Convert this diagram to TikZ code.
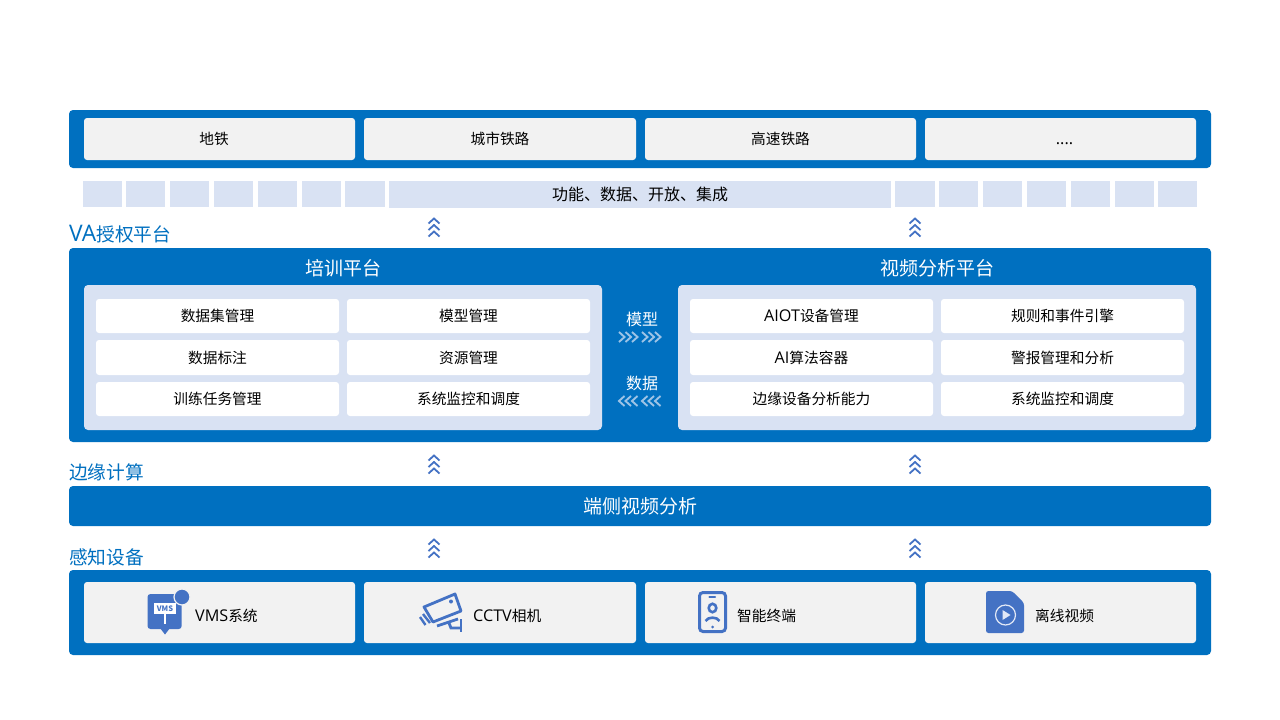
\documentclass[tikz,border=0pt]{standalone}
\usepackage{fontspec}
\setmainfont{Noto Sans CJK SC}
\newfontfamily\lat[Scale=1.1]{Open Sans}
\newfontfamily\latb[Scale=1.22]{Open Sans}
\definecolor{bandblue}{HTML}{0070C0}
\definecolor{paleblue}{HTML}{D9E2F3}
\definecolor{cardgray}{HTML}{F2F2F2}
\definecolor{iconblue}{HTML}{4472C4}
\definecolor{chevlight}{HTML}{9DC3E6}
\newcommand{\fsA}{\fontsize{14.7}{16}\selectfont}
\newcommand{\fsB}{\fontsize{19}{20}\selectfont}
\newcommand{\fsC}{\fontsize{16}{18}\selectfont}
\newcommand{\fsD}{\fontsize{18.7}{20}\selectfont}
% box by corners: name, x0, y0, x1, y1, style, text
\newcommand{\bx}[7]{\node[#6, minimum width=#4pt-#2pt, minimum height=#5pt-#3pt] (#1) at ({(#2+#4)/2},{(#3+#5)/2}) {\raisebox{-1pt}{#7}};}
\newcommand{\upchev}[2]{\foreach \d in {0,6.5,13}{\draw[chevup] (#1-5.5,#2+\d+5)--(#1,#2+\d)--(#1+5.5,#2+\d+5);}}
\newcommand{\hchev}[3]{\foreach \d in {0,6.5,13,23,29.5,36}{\draw[chevh] (#1+\d,#2-5)--(#1+\d+#3,#2)--(#1+\d,#2+5);}}
\tikzset{
  x=1pt,y=-1pt,
  band/.style={fill=bandblue,rounded corners=4pt,inner sep=0,outer sep=0,text=white,font=\fsB},
  card/.style={fill=cardgray,rounded corners=3pt,inner sep=0,outer sep=0,text=black,font=\fsA},
  cell/.style={fill=white,rounded corners=3pt,inner sep=0,outer sep=0,text=black,font=\fsA},
  panel/.style={fill=paleblue,rounded corners=4pt,inner sep=0,outer sep=0},
  strip/.style={fill=paleblue,inner sep=0,outer sep=0,text=black,font=\fsC},
  heading/.style={text=bandblue,font=\fsD,inner sep=0,anchor=west},
  title/.style={text=white,font=\fsB,inner sep=0},
  midlabel/.style={text=white,font=\fsC,inner sep=0},
  cardlabel/.style={text=black,font=\fsA,inner sep=0,anchor=west},
  chevup/.style={draw=iconblue,line width=1.8pt},
  chevh/.style={draw=chevlight,line width=1.9pt},
  iconfill/.style={fill=iconblue,draw=none},
  iconline/.style={draw=iconblue,line width=2.8pt},
}
\begin{document}
\begin{tikzpicture}
\useasboundingbox[fill=white] (0,0) rectangle (1280,720);
% top band
\bx{topband}{69}{110}{1211}{168}{band}{}
\bx{t1}{84}{118}{355}{160}{card}{地铁\hspace{11pt}}
\bx{t2}{364}{118}{636}{160}{card}{城市铁路}
\bx{t3}{645}{118}{916}{160}{card}{高速铁路}
\bx{t4}{925}{118}{1196}{160}{card}{\vphantom{高}\hspace{8pt}{\lat ....}}
% strip
\bx{sa}{83}{181}{122}{207}{strip}{}
\bx{sb}{126}{181}{165}{207}{strip}{}
\bx{sc}{170}{181}{209}{207}{strip}{}
\bx{sd}{214}{181}{253}{207}{strip}{}
\bx{se}{258}{181}{297}{207}{strip}{}
\bx{sf}{302}{181}{341}{207}{strip}{}
\bx{sg}{345}{181}{385}{207}{strip}{}
\bx{sm}{389}{181}{891}{208}{strip}{功能、数据、开放、集成}
\bx{sh}{895}{181}{935}{207}{strip}{}
\bx{si}{939}{181}{978}{207}{strip}{}
\bx{sj}{983}{181}{1022}{207}{strip}{}
\bx{sk}{1027}{181}{1066}{207}{strip}{}
\bx{sl}{1071}{181}{1110}{207}{strip}{}
\bx{sn}{1115}{181}{1154}{207}{strip}{}
\bx{so}{1158}{181}{1197}{207}{strip}{}
% chevrons
\upchev{434}{218.5}
\upchev{915}{218.5}
\upchev{434}{455.5}
\upchev{915}{455.5}
\upchev{434}{539.5}
\upchev{915}{539.5}
% headings
\node[heading] (h1) at (69,234) {{\latb VA}授权平台};
\node[heading] (h2) at (69,472) {边缘计算};
\node[heading] (h3) at (69,557) {感知设备};
% platform band
\bx{plat}{69}{248}{1211}{442}{band}{}
\node[title] (pl) at (343,268.5) {培训平台};
\node[title] (pr) at (937.5,268.5) {视频分析平台};
\bx{pa}{84}{285}{602}{430}{panel}{}
\bx{pb}{678}{285}{1196}{430}{panel}{}
\bx{a1}{96}{299}{339}{333}{cell}{数据集管理}
\bx{a2}{347}{299}{590}{333}{cell}{模型管理}
\bx{a3}{96}{340}{339}{375}{cell}{数据标注}
\bx{a4}{347}{340}{590}{375}{cell}{资源管理}
\bx{a5}{96}{382}{339}{416}{cell}{训练任务管理}
\bx{a6}{347}{382}{590}{416}{cell}{系统监控和调度}
\bx{b1}{690}{299}{933}{333}{cell}{{\lat AIOT}设备管理}
\bx{b2}{941}{299}{1184}{333}{cell}{规则和事件引擎}
\bx{b3}{690}{340}{933}{375}{cell}{{\lat AI}算法容器}
\bx{b4}{941}{340}{1184}{375}{cell}{警报管理和分析}
\bx{b5}{690}{382}{933}{416}{cell}{边缘设备分析能力}
\bx{b6}{941}{382}{1184}{416}{cell}{系统监控和调度}
\node[midlabel] (m1) at (642,319) {模型};
\node[midlabel] (m2) at (642,383) {数据};
\hchev{619}{337}{5.5}
\hchev{624.5}{401}{-5.5}
% edge bar
\bx{edge}{69}{486}{1211}{526}{band}{端侧视频分析}
% bottom band
\bx{bot}{69}{570}{1211}{655}{band}{}
\bx{c1}{84}{582}{355}{643}{card}{}
\bx{c2}{364}{582}{636}{643}{card}{}
\bx{c3}{645}{582}{916}{643}{card}{}
\bx{c4}{925}{582}{1196}{643}{card}{}
\node[cardlabel] (l1) at (195,616) {{\lat VMS}系统};
\node[cardlabel] (l2) at (473,616) {{\lat CCTV}相机};
\node[cardlabel] (l3) at (737,616) {智能终端};
\node[cardlabel] (l4) at (1035,616) {离线视频};
% VMS icon
\fill[iconfill,rounded corners=3pt] (147.5,594) -- (181.7,594) -- (181.7,629) -- (147.5,629) -- cycle;
\fill[iconfill] (160,628) -- (170,628) -- (165,634.5) -- cycle;
\fill[white] (154,603) rectangle (176,614);
\fill[white] (163.7,613) rectangle (166.3,624);
\node[inner sep=0,text=iconblue,font=\fontsize{7.5}{8}\selectfont\bfseries] (vmst) at (165,608.5) {VMS};
\fill[iconblue,draw=cardgray,line width=1.2pt] (182,597) circle (8);
% camera icon
\draw[iconline,line join=round] (424,607) -- (455,594) -- (461,611) -- (433,622) -- cycle;
\fill[iconblue] (451,601.5) circle (2);
\draw[iconline,line width=2.4pt] (423,614) -- (430,623);
\draw[iconline,line width=2.4pt] (420,617) -- (425.5,625);
\draw[iconline] (437,626) -- (458,619);
\draw[iconline] (449,623) -- (451,628) -- (461,628);
\draw[iconline] (461,619) -- (461,632);
% phone icon
\draw[iconline,line width=3pt,rounded corners=3.5pt] (699.5,592.5) rectangle (725.5,631.5);
\draw[iconblue,line width=2.2pt,line cap=round] (709.5,597) -- (715,597);
\draw[iconblue,line width=2.6pt] (712.5,608) ellipse (3.8 and 4.2);
\draw[iconblue,line width=2.6pt] (705.5,621) .. controls (708,616.5) and (717,616.5) .. (719.5,621);
\fill[iconblue] (712.5,627) circle (1.5);
% file icon
\fill[iconfill,rounded corners=2.5pt] (986,591) -- (1012,591) -- (1024,603) -- (1024,633) -- (986,633) -- cycle;
\draw[white,line width=1.2pt,opacity=.85] (1005.5,615) circle (10);
\fill[white,opacity=.85] (1002.5,610) -- (1010.5,615) -- (1002.5,620) -- cycle;
\end{tikzpicture}
\end{document}
